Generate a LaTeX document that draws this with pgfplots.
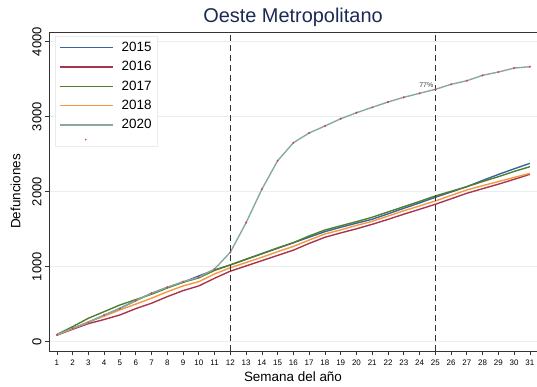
\documentclass[border=0pt]{standalone}
\usepackage{fontspec}
\setmainfont{Liberation Sans}
\usepackage{pgfplots}
\pgfplotsset{compat=1.18}

\definecolor{c15}{HTML}{3A64A0}
\definecolor{c16}{HTML}{A8354E}
\definecolor{c17}{HTML}{4E7F2C}
\definecolor{c18}{HTML}{F59840}
\definecolor{c20}{HTML}{8AA89E}
\definecolor{dotc}{HTML}{D8405F}
\definecolor{titc}{HTML}{1B2A52}
\definecolor{gridc}{HTML}{E6EEF0}

\pgfplotsset{
  linelegend/.style={legend image code/.code={\draw[#1] (0bp,0bp) -- (53bp,0bp); \path[draw=none, fill=none] (0bp,-1bp) rectangle (60bp,1bp);}},
  dotlegend/.style={legend image code/.code={\fill[dotc, draw=none] (26bp,0bp) circle (0.9pt); \path[draw=none, fill=none] (0bp,-1bp) rectangle (60bp,1bp);}},
}

\begin{document}
\begin{tikzpicture}
\begin{axis}[
    name=ax,
    scale only axis,
    width=488bp, height=319bp,
    xmin=0.5, xmax=31.45,
    ymin=-125, ymax=4130,
    axis x line*=bottom,
    axis y line*=left,
    axis line style={line width=0.9pt, black!80},
    after end axis/.code={\draw[line width=0.9pt, black!80] (rel axis cs:0,1) -- (rel axis cs:1,1);},
    xtick={1,2,...,31},
    ytick={0,1000,2000,3000,4000},
    tick align=outside,
    major tick length=4bp,
    tick style={line width=0.7pt, black!80},
    ymajorgrids,
    grid style={gridc, line width=0.6pt},
    /pgf/number format/assume math mode=true,
    scaled y ticks=false,
    yticklabel style={rotate=90, font=\fontsize{13}{14}\selectfont, anchor=south, yshift=0bp},
    xticklabel style={font=\fontsize{8}{9}\selectfont, yshift=-1bp},
    y tick label style={/pgf/number format/1000 sep={}},
    title={Oeste Metropolitano},
    title style={font=\fontsize{20}{22}\selectfont, text=titc, yshift=-4bp},
    xlabel={Semana del año},
    xlabel style={font=\fontsize{13.5}{15}\selectfont, yshift=0bp},
    ylabel={Defunciones},
    ylabel style={font=\fontsize{13.5}{15}\selectfont, yshift=5bp},
    legend style={at={(0.012,0.988)}, anchor=north west, draw=black!8, fill=white,
        font=\fontsize{13.5}{15}\selectfont, row sep=4.5bp, inner sep=4bp},
    legend cell align=left,
    clip=false,
]
\addplot[color=c15, line width=1.4pt, linelegend] coordinates {
(1,90) (2,175) (3,262) (4,350) (5,445) (6,545) (7,645) (8,722) (9,792) (10,876)
(11,956) (12,1023) (13,1097) (14,1171) (15,1245) (16,1319) (17,1393) (18,1467) (19,1525) (20,1580)
(21,1632) (22,1705) (23,1778) (24,1850) (25,1925) (26,1995) (27,2067) (28,2150) (29,2230) (30,2305) (31,2378)};
\addlegendentry{2015}
\addplot[color=c16, line width=1.4pt, linelegend] coordinates {
(1,85) (2,165) (3,240) (4,295) (5,356) (6,440) (7,512) (8,600) (9,680) (10,743)
(11,845) (12,940) (13,1010) (14,1080) (15,1150) (16,1220) (17,1310) (18,1392) (19,1450) (20,1505)
(21,1565) (22,1630) (23,1700) (24,1765) (25,1832) (26,1905) (27,1979) (28,2040) (29,2100) (30,2165) (31,2232)};
\addlegendentry{2016}
\addplot[color=c17, line width=1.4pt, linelegend] coordinates {
(1,95) (2,200) (3,312) (4,400) (5,489) (6,560) (7,632) (8,715) (9,792) (10,850)
(11,950) (12,1023) (13,1100) (14,1175) (15,1250) (16,1320) (17,1410) (18,1489) (19,1545) (20,1600)
(21,1659) (22,1730) (23,1800) (24,1870) (25,1943) (26,2005) (27,2067) (28,2135) (29,2200) (30,2270) (31,2333)};
\addlegendentry{2017}
\addplot[color=c18, line width=1.4pt, linelegend] coordinates {
(1,90) (2,175) (3,263) (4,340) (5,423) (6,500) (7,579) (8,665) (9,743) (10,800)
(11,903) (12,985) (13,1055) (14,1125) (15,1200) (16,1270) (17,1355) (18,1436) (19,1490) (20,1550)
(21,1605) (22,1675) (23,1745) (24,1810) (25,1876) (26,1950) (27,2023) (28,2080) (29,2135) (30,2190) (31,2245)};
\addlegendentry{2018}
\addplot[color=c20, line width=1.4pt, linelegend] coordinates {
(1,89) (2,178) (3,253) (4,356) (5,440) (6,547) (7,645) (8,725) (9,800) (10,858)
(11,969) (12,1192) (13,1587) (14,2032) (15,2413) (16,2653) (17,2783) (18,2876) (19,2973) (20,3053)
(21,3125) (22,3196) (23,3259) (24,3312) (25,3365) (26,3432) (27,3480) (28,3552) (29,3596) (30,3649) (31,3667)};
\addlegendentry{2020}
\addplot[only marks, mark=*, mark size=0.8pt, color=dotc, dotlegend]
coordinates {
(1,89) (2,178) (3,253) (4,356) (5,440) (6,547) (7,645) (8,725) (9,800) (10,858)
(11,969) (12,1192) (13,1587) (14,2032) (15,2413) (16,2653) (17,2783) (18,2876) (19,2973) (20,3053)
(21,3125) (22,3196) (23,3259) (24,3312) (25,3365) (26,3432) (27,3480) (28,3552) (29,3596) (30,3649) (31,3667)};
\addlegendentry{}
% reference lines
\addplot[black!80, line width=1.3pt, dash pattern=on 6bp off 4bp, forget plot] coordinates {(12,-125) (12,4130)};
\addplot[black!80, line width=1.3pt, dash pattern=on 6bp off 4bp, forget plot] coordinates {(25,-125) (25,4130)};
\node[anchor=east, font=\fontsize{7}{8}\selectfont, text=black!75, inner sep=1bp] at (axis cs:24.95,3420) {77\%};
\end{axis}
\pgfresetboundingbox
\path[use as bounding box] ([xshift=-49bp,yshift=-36bp]ax.south west) rectangle ([yshift=32bp]ax.north east);
\end{tikzpicture}
\end{document}
